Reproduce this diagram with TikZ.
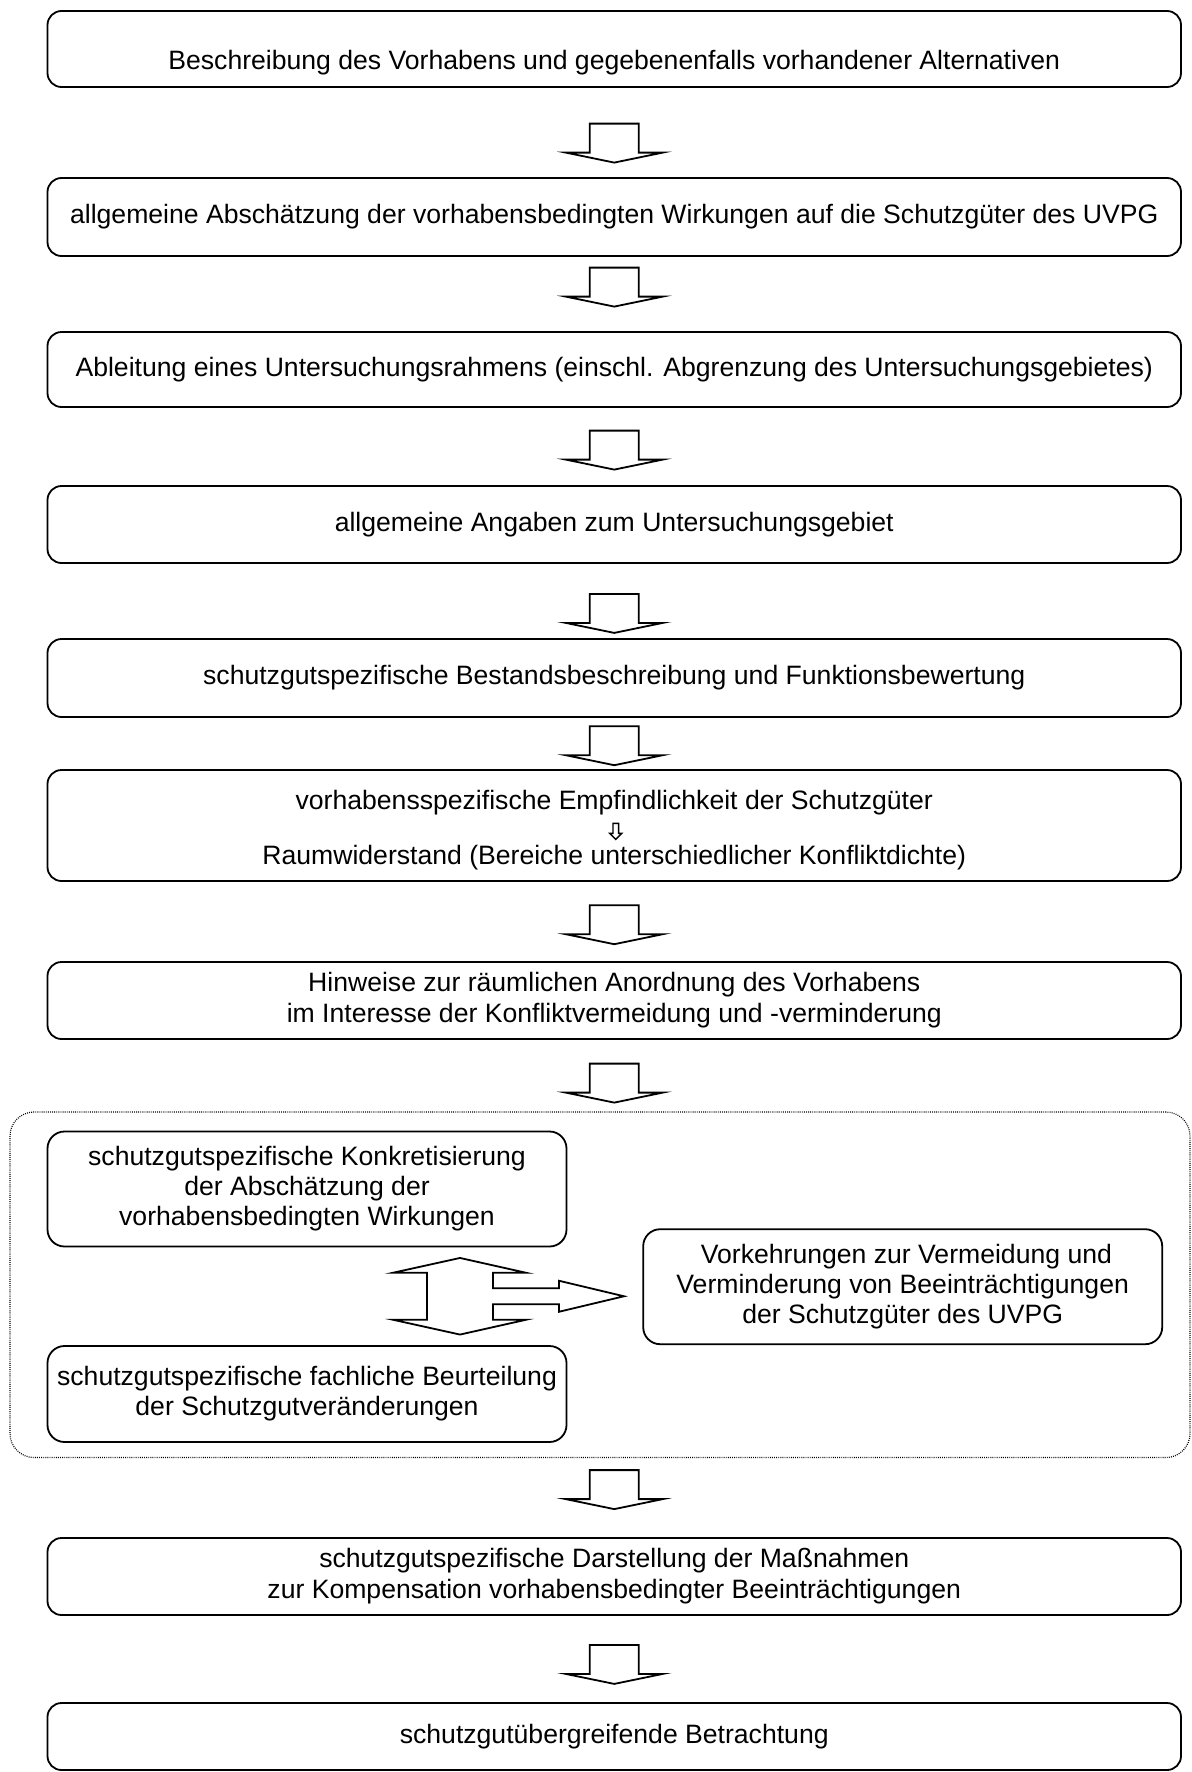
\documentclass[tikz,border=0pt]{standalone}
\usepackage{fontspec}
\setmainfont{Liberation Sans}
\usetikzlibrary{calc}

\begin{document}
\begin{tikzpicture}[x=0.5pt, y=-0.5pt, line width=0.9pt,
	mainbox/.style={draw, rounded corners=7pt, minimum width=566.75pt, inner sep=0pt, align=center, font=\fontsize{13.3}{15.5}\selectfont},
	subbox/.style={draw, rounded corners=8.5pt, minimum width=259.5pt, inner sep=0pt, align=center, font=\fontsize{13.3}{15}\selectfont},
	plaintext/.style={inner sep=0pt, font=\fontsize{13.3}{15}\selectfont},
	frame/.style={draw, rounded corners=12pt, line width=0.6pt, dash pattern=on 0.45pt off 0.6pt},
	blockarrow/.style={draw, fill=white},
	downblock/.pic={\draw[blockarrow] (-24.5,0) -- (-24.5,29) -- (-48.5,29) -- (0,39) -- (48.5,29) -- (24.5,29) -- (24.5,0) -- cycle;}]
	\useasboundingbox (0,0) rectangle (1191,1772);
	% Main column
	\node[mainbox, minimum height=38pt] (beschr) at (614.25,49) {};
	\node[plaintext] (beschrtext) at (614.25,63) {Beschreibung des Vorhabens und gegebenenfalls vorhandener Alternativen};
	\node[mainbox, minimum height=39pt] (wirkung) at (614.25,217) {allgemeine Absch\"atzung der vorhabensbedingten Wirkungen auf die Schutzg\"uter des UVPG};
	\node[mainbox, minimum height=37.5pt] (rahmen) at (614.25,369.5) {Ableitung eines Untersuchungsrahmens (einschl. Abgrenzung des Untersuchungsgebietes)};
	\node[mainbox, minimum height=38.5pt] (angaben) at (614.25,524.5) {allgemeine Angaben zum Untersuchungsgebiet};
	\node[mainbox, minimum height=39pt] (bestand) at (614.25,678) {schutzgutspezifische Bestandsbeschreibung und Funktionsbewertung};
	\node[mainbox, minimum height=55.5pt] (raum) at (614.25,825.5) {};
	\node[plaintext] (empf) at (614.25,803) {vorhabensspezifische Empfindlichkeit der Schutzg\"uter};
	\node[plaintext] (widerstand) at (614.25,858) {Raumwiderstand (Bereiche unterschiedlicher Konfliktdichte)};
	\node[mainbox, minimum height=38.5pt] (hinweise) at (614.25,1000.5) {Hinweise zur r\"aumlichen Anordnung des Vorhabens\\im Interesse der Konfliktvermeidung und -verminderung};
	% Dotted group
	\node[frame, minimum width=590pt, minimum height=172.75pt] (gruppe) at (600,1284.75) {};
	\node[subbox, minimum height=57.5pt] (konkret) at (307,1189) {schutzgutspezifische Konkretisierung\\der Absch\"atzung der\\vorhabensbedingten Wirkungen};
	\node[subbox, minimum height=48pt] (beurteil) at (307,1394) {schutzgutspezifische fachliche Beurteilung\\der Schutzgutver\"anderungen};
	\node[subbox, minimum height=57.5pt] (vorkehr) at (902.7,1286.7) {\ Vorkehrungen zur Vermeidung und\\Verminderung von Beeintr\"achtigungen\\der Schutzg\"uter des UVPG};
	\node[mainbox, minimum height=38.5pt] (kompens) at (614.25,1576.5) {schutzgutspezifische Darstellung der Ma\ss nahmen\\zur Kompensation vorhabensbedingter Beeintr\"achtigungen};
	\node[mainbox, minimum height=33.5pt] (betracht) at (614.25,1736.5) {schutzgut\"ubergreifende Betrachtung};
	% Block arrows
	\pic at ($(beschr.south)+(0,35.7)$) {downblock};
	\pic at ($(wirkung.south)+(0,10.7)$) {downblock};
	\pic at ($(rahmen.south)+(0,22.7)$) {downblock};
	\pic at ($(angaben.south)+(0,30)$) {downblock};
	\pic at ($(bestand.south)+(0,8.3)$) {downblock};
	\pic at ($(raum.south)+(0,23.3)$) {downblock};
	\pic at ($(hinweise.south)+(0,23.7)$) {downblock};
	\pic at ($(gruppe.south -| kompens.north)+(0,12)$) {downblock};
	\pic at ($(kompens.south)+(0,29)$) {downblock};
	% Small arrow inside
	\draw[blockarrow, line width=0.7pt] ($(empf.south)+(-1.3,7)$) coordinate (klein)
		-- ++(0,10) -- ++(-3.2,0) -- ++(6,6) -- ++(6,-6) -- ++(-3.2,0) -- ++(0,-10) -- cycle;
	% Double arrow with branch
	\coordinate (mitte) at ($(konkret.south)!0.5!(beurteil.north)+(153,0)$);
	\draw[blockarrow, shift={(mitte)}] (0,-38.3) -- (66,-23.5) -- (33,-23.5) -- (33,-8) -- (99,-8) -- (99,-15.5)
		-- (164,0) -- (99,15.5) -- (99,8) -- (33,8) -- (33,23.5) -- (66,23.5) -- (0,38.3)
		-- (-67,23.5) -- (-33,23.5) -- (-33,-23.5) -- (-67,-23.5) -- cycle;
\end{tikzpicture}
\end{document}
